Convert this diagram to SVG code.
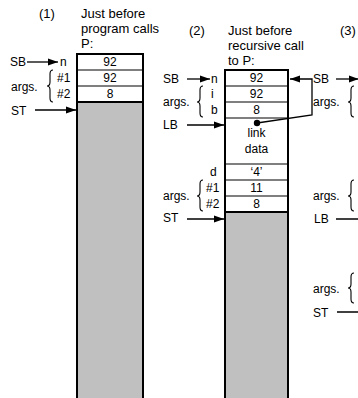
<svg xmlns="http://www.w3.org/2000/svg" width="358" height="398" viewBox="0 0 358 398">
<defs>
<style>
.t{font-family:"Liberation Sans",Arial,sans-serif;font-size:12px;fill:#000}
.h{font-size:13px}
.c{text-anchor:middle}
.ln{stroke:#000;stroke-width:1.3;fill:none}
.br{stroke:#000;stroke-width:1.1;fill:none}
.box{fill:#fff;stroke:#000;stroke-width:2}
.gray{fill:#c0c0c0;stroke:#000;stroke-width:2}
.div{stroke:#000;stroke-width:1.2}
</style>
<marker id="ah" markerUnits="userSpaceOnUse" markerWidth="10" markerHeight="8" refX="10" refY="4" orient="auto">
<path d="M0,0.5 L10,4 L0,7.5 z" fill="#000"/>
</marker>
</defs>
<rect width="358" height="398" fill="#fff"/>

<g id="header1">
<text class="t h" x="39" y="18">(1)</text>
<text class="t h" x="81" y="18">Just before</text>
<text class="t h" x="81" y="33">program calls</text>
<text class="t h" x="81" y="48">P:</text>
</g>
<g id="header2">
<text class="t h" x="189" y="35">(2)</text>
<text class="t h" x="228" y="35">Just before</text>
<text class="t h" x="228" y="50">recursive call</text>
<text class="t h" x="228" y="65">to P:</text>
</g>
<g id="header3">
<text class="t h" x="340" y="35">(3)</text>
</g>

<g id="stack1">
<rect class="box" x="77" y="54" width="66" height="360"/>
<rect class="gray" x="77" y="102" width="66" height="312"/>
<line class="div" x1="77" y1="70" x2="143" y2="70"/>
<line class="div" x1="77" y1="86" x2="143" y2="86"/>
<text class="t c" x="110" y="66">92</text>
<text class="t c" x="110" y="82">92</text>
<text class="t c" x="110" y="98">8</text>
</g>

<g id="stack2">
<rect class="box" x="225" y="70" width="63" height="344"/>
<rect class="gray" x="225" y="212" width="63" height="202"/>
<line class="div" x1="225" y1="86" x2="288" y2="86"/>
<line class="div" x1="225" y1="102" x2="288" y2="102"/>
<line class="div" x1="225" y1="118" x2="288" y2="118"/>
<line class="div" x1="225" y1="164" x2="288" y2="164"/>
<line class="div" x1="225" y1="180" x2="288" y2="180"/>
<line class="div" x1="225" y1="196" x2="288" y2="196"/>
<text class="t c" x="256.5" y="82">92</text>
<text class="t c" x="256.5" y="98">92</text>
<text class="t c" x="256.5" y="114">8</text>
<text class="t c" x="256.5" y="137">link</text>
<text class="t c" x="256.5" y="153">data</text>
<text class="t c" x="256.5" y="176">‘4’</text>
<text class="t c" x="256.5" y="192">11</text>
<text class="t c" x="256.5" y="208">8</text>
<circle cx="257" cy="123" r="3.2" fill="#000"/>
</g>

<g id="labels1">
<text class="t" x="10" y="66">SB</text>
<text class="t" x="60" y="66">n</text>
<text class="t" x="57" y="82">#1</text>
<text class="t" x="57" y="98">#2</text>
<text class="t" x="11" y="91">args.</text>
<path class="br" d="M53,70 Q50,70 50,74 L50,82 Q50,86 47,86 Q50,86 50,90 L50,98 Q50,102 53,102"/>
<text class="t" x="11" y="115">ST</text>
</g>

<g id="labels2">
<text class="t" x="163" y="83">SB</text>
<text class="t" x="211" y="83">n</text>
<text class="t" x="211" y="98">i</text>
<text class="t" x="211" y="114">b</text>
<text class="t" x="163" y="106">args.</text>
<path class="br" d="M203,86 Q200,86 200,90 L200,98 Q200,102 197,102 Q200,102 200,106 L200,113 Q200,117 203,117"/>
<text class="t" x="163" y="129">LB</text>
<text class="t" x="210" y="176">d</text>
<text class="t" x="206" y="192">#1</text>
<text class="t" x="206" y="208">#2</text>
<text class="t" x="163" y="200">args.</text>
<path class="br" d="M203,180 Q200,180 200,184 L200,192 Q200,196 197,196 Q200,196 200,200 L200,207 Q200,211 203,211"/>
<text class="t" x="163" y="222">ST</text>
</g>

<g id="labels3">
<text class="t" x="313" y="83">SB</text>
<text class="t" x="313" y="106">args.</text>
<path class="br" d="M354,86 Q351,86 351,90 L351,98 Q351,102 348,102 Q351,102 351,106 L351,113 Q351,117 354,117"/>
<text class="t" x="313" y="200">args.</text>
<path class="br" d="M354,180 Q351,180 351,184 L351,192 Q351,196 348,196 Q351,196 351,200 L351,207 Q351,211 354,211"/>
<text class="t" x="314" y="223">LB</text>
<text class="t" x="313" y="293">args.</text>
<path class="br" d="M354,273 Q351,273 351,277 L351,284 Q351,288 348,288 Q351,288 351,292 L351,299 Q351,303 354,303"/>
<text class="t" x="313" y="317">ST</text>
</g>

<g id="connectors">
<line class="ln" x1="27" y1="62" x2="58" y2="62" marker-end="url(#ah)"/>
<line class="ln" x1="35" y1="110" x2="76" y2="110" marker-end="url(#ah)"/>
<line class="ln" x1="187" y1="79" x2="210" y2="79" marker-end="url(#ah)"/>
<line class="ln" x1="187" y1="125" x2="224" y2="125" marker-end="url(#ah)"/>
<line class="ln" x1="187" y1="219" x2="224" y2="219" marker-end="url(#ah)"/>
<polyline class="ln" points="257,123 312,115 312,79 290,79" marker-end="url(#ah)"/>
<line class="ln" x1="336" y1="79" x2="359" y2="79" marker-end="url(#ah)"/>
<line class="ln" x1="336" y1="219" x2="374" y2="219" marker-end="url(#ah)"/>
<line class="ln" x1="337" y1="312" x2="374" y2="312" marker-end="url(#ah)"/>
</g>
</svg>
